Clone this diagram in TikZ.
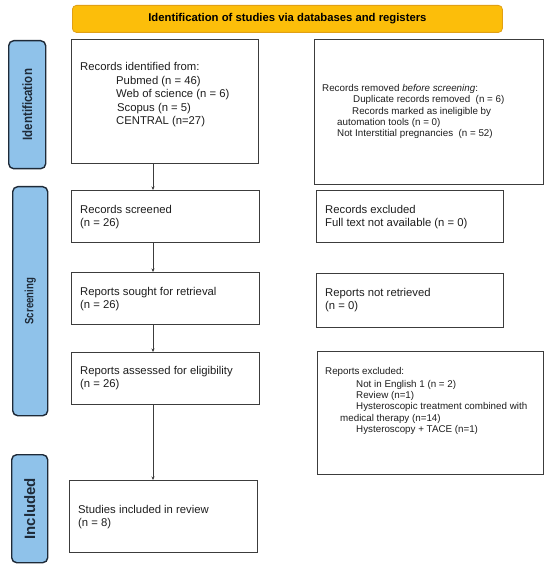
\documentclass[tikz,border=0pt]{standalone}
\usepackage{fontspec}
\setmainfont{Liberation Sans}
\newfontfamily\narrowA[FakeStretch=0.85]{Liberation Sans}
\newfontfamily\narrowB[FakeStretch=0.80]{Liberation Sans}
\usetikzlibrary{arrows.meta,calc}
\definecolor{bannerfill}{RGB}{252,190,10}
\definecolor{bannerdraw}{RGB}{225,160,20}
\definecolor{sidefill}{RGB}{143,194,234}
\definecolor{sidedraw}{RGB}{30,42,56}
\definecolor{boxdraw}{RGB}{60,60,60}
\definecolor{txtcol}{RGB}{30,30,30}
\tikzset{
  box/.style={draw=boxdraw, line width=1.1pt, fill=white, anchor=north west, inner sep=0pt},
  side/.style={draw=sidedraw, line width=1.4pt, fill=sidefill, rounded corners=5pt, anchor=north west, inner sep=0pt},
  sidetxt/.style={rotate=90, text=sidedraw, inner sep=0pt},
  txt/.style={anchor=west, align=left, inner sep=0pt, text=txtcol, font=\fontsize{11.3}{13}\selectfont},
  smalltxt/.style={anchor=west, align=left, inner sep=0pt, text=txtcol, font=\fontsize{9.8}{11.4}\selectfont},
  arr/.style={draw=boxdraw, line width=0.8pt, -{Stealth[length=3.5pt,width=3pt]}}
}
\begin{document}
\begin{tikzpicture}[x=1pt,y=-1pt]
\useasboundingbox (0,0) rectangle (550,569);
\fill[white] (0,0) rectangle (550,569);
% banner
\node[draw=bannerdraw, line width=0.8pt, fill=bannerfill, rounded corners=4pt, anchor=north west, inner sep=0pt,
      minimum width=430, minimum height=27] (banner) at (72,5) {};
\node[font=\fontsize{11.3}{13}\bfseries, text=black, inner sep=0pt] (bannertxt) at (banner.center) {Identification of studies via databases and registers};
% side labels
\node[side, minimum width=37, minimum height=128] (sideI) at (8,40) {};
\node[sidetxt, font=\narrowA\fontsize{13.5}{15}\bfseries] (sideItxt) at (sideI.center) {Identification};
\node[side, minimum width=35, minimum height=229] (sideS) at (12,186) {};
\node[sidetxt, font=\narrowB\fontsize{12}{14}\bfseries] (sideStxt) at (sideS.center) {Screening};
\node[side, minimum width=36, minimum height=108] (sideN) at (11,454) {};
\node[sidetxt, font=\fontsize{15}{17}\bfseries] (sideNtxt) at (sideN.center) {Included};
% left column
\node[box, minimum width=187, minimum height=124] (b1) at (71,39) {};
\node[txt, font=\fontsize{11.3}{13.5}\selectfont] (b1t) at (80,95) {Records identified from:\\
\hspace*{36pt}Pubmed (n = 46)\\
\hspace*{36pt}Web of science (n = 6)\\
\hspace*{37pt}Scopus (n = 5)\\
\hspace*{36pt}CENTRAL (n=27)};
\node[box, minimum width=188, minimum height=52] (b2) at (71,190) {};
\node[txt] (b2t) at (80,217) {Records screened\\(n = 26)};
\node[box, minimum width=188, minimum height=52] (b3) at (71,272) {};
\node[txt] (b3t) at (80,299) {Reports sought for retrieval\\(n = 26)};
\node[box, minimum width=188, minimum height=52] (b4) at (71,352) {};
\node[txt] (b4t) at (80,378.5) {Reports assessed for eligibility\\(n = 26)};
\node[box, minimum width=188, minimum height=72] (b5) at (69,480) {};
\node[txt] (b5t) at (78,517) {Studies included in review\\(n = 8)};
% right column
\node[box, minimum width=229, minimum height=145] (r1) at (314,39) {};
\node[smalltxt] (r1t) at (322,111.5) {Records removed \textit{before screening}:\\
\hspace*{31pt}Duplicate records removed\ \ (n = 6)\\
\hspace*{30pt}Records marked as ineligible by\\
\hspace*{15pt}automation tools (n = 0)\\
\hspace*{15pt}Not Interstitial pregnancies\ \ (n = 52)};
\node[box, minimum width=187, minimum height=52] (r2) at (316,190) {};
\node[txt] (r2t) at (325,217) {Records excluded\\Full text not available (n = 0)};
\node[box, minimum width=187, minimum height=54] (r3) at (316,273) {};
\node[txt] (r3t) at (325,300) {Reports not retrieved\\(n = 0)};
\node[box, minimum width=226, minimum height=123] (r4) at (317,351) {};
\node[smalltxt] (r4t) at (325,401) {Reports excluded:\\[1.5pt]
\hspace*{31pt}Not in English 1 (n = 2)\\
\hspace*{31pt}Review (n=1)\\
\hspace*{31pt}Hysteroscopic treatment combined with\\
\hspace*{15pt}medical therapy (n=14)\\
\hspace*{31pt}Hysteroscopy + TACE (n=1)};
% arrows
\coordinate (ax) at (153,0);
\draw[arr] (b1.south -| ax) -- (b2.north -| ax);
\draw[arr] (b2.south -| ax) -- (b3.north -| ax);
\draw[arr] (b3.south -| ax) -- (b4.north -| ax);
\draw[arr] (b4.south -| ax) -- (b5.north -| ax);
\end{tikzpicture}
\end{document}
